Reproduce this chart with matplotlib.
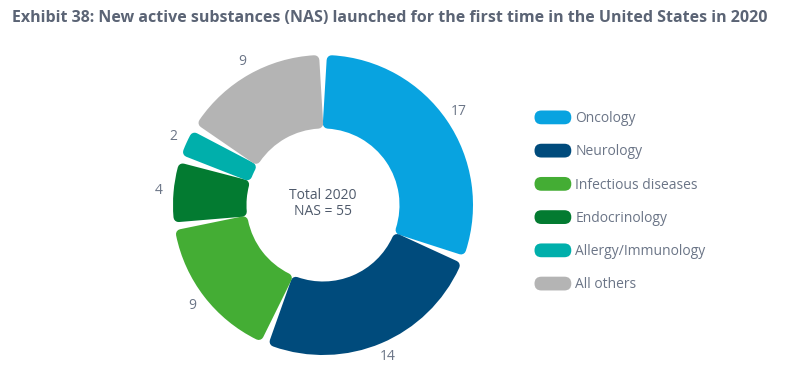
import matplotlib
matplotlib.use("Agg")
import matplotlib.pyplot as plt
import numpy as np
from matplotlib.patches import FancyBboxPatch, Patch
from matplotlib.legend_handler import HandlerPatch

# data
categories = ["Oncology", "Neurology", "Infectious diseases", "Endocrinology",
              "Allergy/Immunology", "All others"]
counts = [17, 14, 9, 4, 2, 9]
colors = ["#08a3e0", "#004b7c", "#44ad34", "#037b31", "#00afab", "#b4b4b4"]
center_text = "Total 2020\nNAS = 55"
title = "Exhibit 38: New active substances (NAS) launched for the first time in the United States in 2020"

text_col = "#6b7587"
plt.rcParams["font.family"] = ["Open Sans", "DejaVu Sans"]

fig = plt.figure(figsize=(7.98, 3.70), dpi=100)
ax = fig.add_axes([173 / 798, 15 / 370, 300 / 798, 300 / 370])

ring = 0.49
wedges, texts = ax.pie(counts, colors=colors, startangle=90, counterclock=False,
                       radius=1, labels=[str(c) for c in counts], labeldistance=1.1,
                       wedgeprops=dict(width=ring),
                       textprops=dict(color=text_col, fontsize=10))
for t in texts:
    t.set_ha("center")
    t.set_va("center")

# rounded corners + white gaps
rc = 5 / 150      # corner radius in data units
gap = 3.5 / 150
r_mid = 1 - ring / 2
dtheta = np.degrees((gap / 2 + rc) / r_mid)
for w in wedges:
    w.set_theta1(w.theta1 + dtheta)
    w.set_theta2(w.theta2 - dtheta)
    w.set_radius(1 - rc)
    w.set_width(ring - 2 * rc)
    w.set_edgecolor(w.get_facecolor())
    w.set_linewidth(2 * rc * 150 * 0.72)
    w.set_joinstyle("round")

ax.text(0, 0.01, center_text, ha="center", va="center", fontsize=10,
        color="#4f5a6b", linespacing=1.05)
ax.set_xlim(-1, 1)
ax.set_ylim(-1, 1)
ax.set_aspect("equal")
ax.axis("off")


class RoundHandler(HandlerPatch):
    def create_artists(self, legend, orig_handle, xdescent, ydescent, width,
                       height, fontsize, trans):
        p = FancyBboxPatch((-xdescent, -ydescent), width, height,
                           boxstyle="round,pad=0,rounding_size=%f" % (height / 2),
                           facecolor=orig_handle.get_facecolor(), edgecolor="none",
                           transform=trans)
        return [p]


handles = [Patch(facecolor=c) for c in colors]
leg = fig.legend(handles, categories, loc="upper left",
                 bbox_to_anchor=(522 / 798, 1 - 98 / 370), frameon=False,
                 fontsize=10, handlelength=2.65, handleheight=1.15,
                 labelspacing=1.27, handletextpad=0.3,
                 handler_map={Patch: RoundHandler()})
for t in leg.get_texts():
    t.set_color(text_col)

fig.text(12 / 798, 1 - 18 / 370, title, ha="left", va="center", fontsize=11.55,
         fontweight="bold", color="#5b6475")

fig.savefig("out.png", dpi=100)
